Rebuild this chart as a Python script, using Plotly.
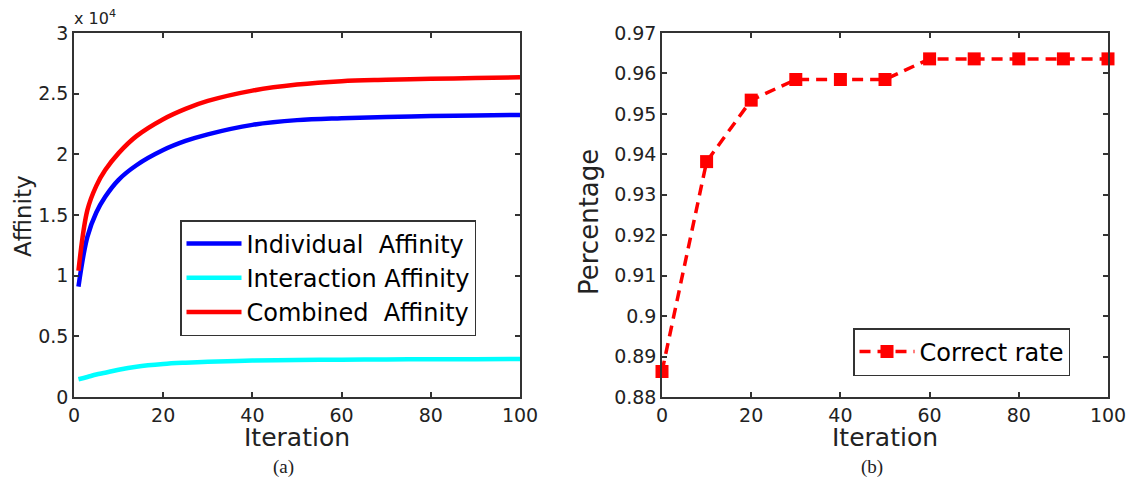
import plotly.graph_objects as go

# ---- Data (a): affinity (units of 1e4) ----
iters_a = [1, 3, 5, 7, 10, 14, 20, 25, 30, 40, 50, 60, 70, 80, 90, 100]
individual = [0.91, 1.32, 1.52, 1.65, 1.79, 1.91, 2.035, 2.11, 2.165, 2.243, 2.282, 2.298, 2.308, 2.316, 2.321, 2.324]
interaction = [0.146, 0.165, 0.185, 0.20, 0.225, 0.25, 0.272, 0.283, 0.291, 0.30, 0.305, 0.308, 0.31, 0.311, 0.312, 0.313]
combined = [1.04, 1.54, 1.74, 1.87, 2.01, 2.15, 2.29, 2.375, 2.44, 2.525, 2.575, 2.603, 2.614, 2.622, 2.629, 2.635]

# ---- Data (b): correct rate ----
iters_b = [0, 10, 20, 30, 40, 50, 60, 70, 80, 90, 100]
correct_rate = [0.8863, 0.9382, 0.9534, 0.9585, 0.9585, 0.9585, 0.9636, 0.9636, 0.9636, 0.9636, 0.9636]

FONT = "DejaVu Sans, Liberation Sans, Arial, sans-serif"
SERIF = "Liberation Serif, Times New Roman, serif"
AX = "#333333"
TXT = "#222222"

fig = go.Figure()
lw = 4.5
fig.add_trace(go.Scatter(x=iters_a, y=individual, mode="lines", line=dict(color="#0000ff", width=lw, shape="spline"),
                         name="Individual\u00a0\u00a0Affinity", xaxis="x", yaxis="y", legend="legend"))
fig.add_trace(go.Scatter(x=iters_a, y=interaction, mode="lines", line=dict(color="#00ffff", width=lw, shape="spline"),
                         name="Interaction\u00a0Affinity", xaxis="x", yaxis="y", legend="legend"))
fig.add_trace(go.Scatter(x=iters_a, y=combined, mode="lines", line=dict(color="#ff0000", width=lw, shape="spline"),
                         name="Combined\u00a0\u00a0Affinity", xaxis="x", yaxis="y", legend="legend"))

fig.add_trace(go.Scatter(x=iters_b, y=correct_rate, mode="lines+markers",
                         line=dict(color="#ff0000", width=3.5, dash="11px,7px"),
                         marker=dict(symbol="square", size=13, color="#ff0000"),
                         cliponaxis=False,
                         name="Correct rate", xaxis="x2", yaxis="y2", legend="legend2"))

W, H = 1132, 492
def fx(p): return p / W
def fy(p): return 1 - p / H

axis_common = dict(showline=True, linecolor=AX, linewidth=1.5, mirror="ticks", ticks="inside",
                   ticklen=5, tickcolor=AX, tickwidth=1.5, showgrid=False, zeroline=False,
                   automargin=False,
                   tickfont=dict(family=FONT, size=19, color=TXT))

fig.update_layout(
    width=W, height=H, margin=dict(l=0, r=0, t=0, b=0, autoexpand=False),
    paper_bgcolor="white", plot_bgcolor="white",
    xaxis=dict(domain=[fx(74), fx(520)], range=[0, 100], dtick=20, anchor="y", **axis_common),
    yaxis=dict(domain=[fy(397), fy(33)], range=[0, 3], dtick=0.5, anchor="x", **axis_common),
    xaxis2=dict(domain=[fx(662), fx(1108)], range=[0, 100], anchor="y2",
                tickvals=[0, 20, 40, 60, 80, 100], **axis_common),
    yaxis2=dict(domain=[fy(397), fy(33)], range=[0.88, 0.97], dtick=0.01, anchor="x2", **axis_common),
    legend=dict(x=fx(180), y=fy(220), xanchor="left", yanchor="top", bgcolor="white",
                bordercolor=AX, borderwidth=1.5, itemwidth=55, tracegroupgap=0,
                font=dict(family=FONT, size=24, color="black")),
    legend2=dict(x=fx(853), y=fy(328), xanchor="left", yanchor="top", bgcolor="white",
                 bordercolor=AX, borderwidth=1.5, itemwidth=55,
                 font=dict(family=FONT, size=24, color="black")),
    showlegend=True,
)

def label(text, x, y, size, angle=0, family=FONT, xa="center", ya="middle"):
    return dict(text=text, x=fx(x), y=fy(y), xref="paper", yref="paper", showarrow=False,
                xanchor=xa, yanchor=ya, textangle=angle,
                font=dict(family=family, size=size, color=TXT))

ann = [
    label("Affinity", 23, 216, 23, angle=-90),
    label("Percentage", 589, 222, 26, angle=-90),
    label("Iteration", 297, 437, 25),
    label("Iteration", 885, 437, 25),
    label("x 10<sup>4</sup>", 72, 30, 16, xa="left", ya="bottom"),
    label("(a)", 283, 467, 19, family=SERIF),
    label("(b)", 872, 467, 19, family=SERIF),
]
fig.update_layout(annotations=ann)

fig.write_html("out.html")
